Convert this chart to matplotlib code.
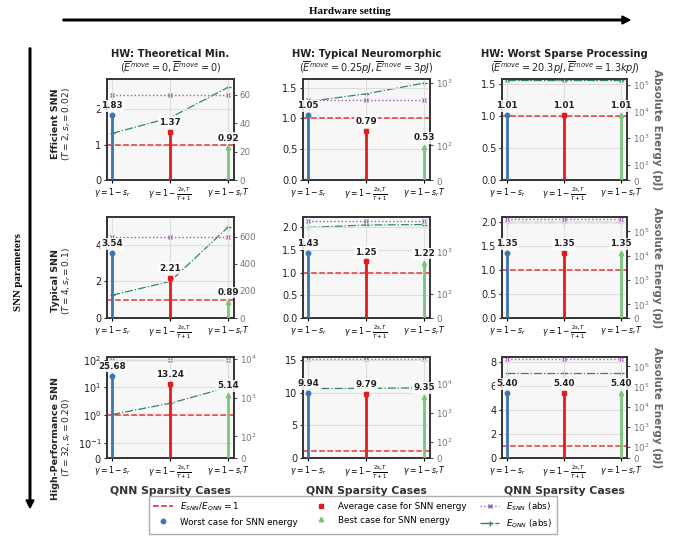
import matplotlib
matplotlib.use('Agg')
import matplotlib.pyplot as plt
from matplotlib.lines import Line2D

# ---------------- data ----------------
cases = [r'$\gamma=1-s_r$', r'$\gamma=1-\frac{2s_rT}{T+1}$', r'$\gamma=1-s_rT$']
hw_titles = ['HW: Theoretical Min.', 'HW: Typical Neuromorphic', 'HW: Worst Sparse Processing']
hw_params = [r'($\overline{E}^{move}=0, \overline{E}^{move}=0$)',
             r'($\overline{E}^{move}=0.25pJ, \overline{E}^{move}=3pJ$)',
             r'($\overline{E}^{move}=20.3pJ, \overline{E}^{move}=1.3kpJ$)']
snn_names = ['Efficient SNN', 'Typical SNN', 'High-Performance SNN']
snn_params = [r'($T=2, s_r=0.02$)', r'($T=4, s_r=0.1$)', r'($T=32, s_r=0.20$)']

# energy ratio E_SNN / E_QNN per hardware setting (three sparsity cases)
ratio_efficient = [[1.83, 1.37, 0.92], [1.05, 0.79, 0.53], [1.01, 1.01, 1.01]]
ratio_typical = [[3.54, 2.21, 0.89], [1.43, 1.25, 1.22], [1.35, 1.35, 1.35]]
ratio_highperf = [[25.68, 13.24, 5.14], [9.94, 9.79, 9.35], [5.40, 5.40, 5.40]]

# absolute SNN energy (pJ) per hardware setting
esnn_efficient = [60, 530, 1.45e5]
esnn_typical = [600, 5200, 3.3e5]
esnn_highperf = [9400, 6.6e4, 2.4e6]

# absolute QNN energy (pJ) per hardware setting and case
eqnn_efficient = [[32.8, 43.8, 65.2], [505, 671, 1000], [1.436e5, 1.436e5, 1.436e5]]
eqnn_typical = [[169, 271, 674], [3640, 4160, 4260], [2.44e5, 2.44e5, 2.44e5]]
eqnn_highperf = [[366, 710, 1829], [6640, 6740, 7060], [4.44e5, 4.44e5, 4.44e5]]

ratios = [ratio_efficient, ratio_typical, ratio_highperf]
esnn = [esnn_efficient, esnn_typical, esnn_highperf]
eqnn = [eqnn_efficient, eqnn_typical, eqnn_highperf]

# ---------------- styling ----------------
C_BLUE = '#3b76b0'
C_RED = '#e41a1c'
C_GREEN = '#7cc47a'
C_PURPLE = '#a05cb8'
C_DGREEN = '#2e8b57'
bar_colors = [C_BLUE, C_RED, C_GREEN]
bar_markers = ['o', 's', '^']

right_ylim = [[71, 1160, 1.62e5], [748, 6400, 3.9e5], [1.1e4, 8e4, 2.9e6]]

fig = plt.figure(figsize=(6.85, 5.38), dpi=100)
W, H = 685.0, 538.0
col_left = [107, 303, 502]
col_w = [127, 127, 125]
row_top = [79, 217, 357]
row_h = 101

for r in range(3):
    for c in range(3):
        x0 = col_left[c] / W
        y0 = 1 - (row_top[r] + row_h) / H
        ax = fig.add_axes([x0, y0, col_w[c] / W, row_h / H])
        ax2 = ax.twinx()
        ax.set_zorder(ax2.get_zorder() + 1)
        ax.patch.set_visible(False)
        ax2.patch.set_visible(True)
        ax2.patch.set_facecolor('#f7f7f7')

        vals = ratios[r][c]
        xs = list(range(len(cases)))
        for i, v in enumerate(vals):
            ax.vlines(xs[i], 0, v, color=bar_colors[i], lw=2.0, zorder=3)
            ax.plot(xs[i], v, marker=bar_markers[i], color=bar_colors[i], ms=3.2, zorder=4)
            ax.annotate(f'{v:.2f}', xy=(xs[i], v), xytext=(0, 3.5), textcoords='offset points',
                        ha='center', va='bottom', fontsize=6.3, fontweight='bold', color='#222222',
                        bbox=dict(boxstyle='square,pad=0.15', fc='white', ec='none', alpha=0.85),
                        zorder=6)
        ax.axhline(1, color=C_RED, ls='--', lw=1.1, alpha=0.85, zorder=2)

        # absolute energies on the right axis
        ax2.plot(xs, [esnn[r][c]] * len(xs), color=C_PURPLE, ls=':', lw=1.0, marker='x', ms=3.2,
                 mew=0.9)
        ax2.plot(xs, eqnn[r][c], color=C_DGREEN, ls='-.', lw=0.9, marker='+', ms=3.6, mew=0.9)

        if r == 2 and c == 0:
            ax.set_yscale('symlog', linthresh=0.1, linscale=0.5)
            ax.set_ylim(0, 125)
        else:
            ax.set_ylim(0, max(vals) * 1.56)
        if c == 0 and r < 2:
            ax2.set_ylim(0, right_ylim[r][c])
        else:
            ax2.set_yscale('symlog', linthresh=100, linscale=0.5)
            ax2.set_ylim(0, right_ylim[r][c])
            ax2.minorticks_off()
        ax.set_xlim(-0.09, 2.1)
        ax.set_xticks(xs)
        ax.set_xticklabels(cases, fontsize=5.6)
        ax.tick_params(axis='y', labelsize=7, length=2.5, width=0.8, pad=1.5, colors='#222222')
        ax.tick_params(axis='x', length=2.5, width=0.8, pad=1.5)
        ax2.tick_params(axis='y', labelsize=6.3, length=2.5, width=0.8, pad=1.5,
                        labelcolor='#777777', color='#555555')
        ax.grid(True, color='#dedede', lw=0.8, zorder=0)
        ax.set_axisbelow(True)
        for sp in ax.spines.values():
            sp.set_color('#333333')
            sp.set_linewidth(1.2)
        for sp in ax2.spines.values():
            sp.set_color('#333333')
            sp.set_linewidth(1.2)

        if r == 0:
            ax.text(0.5, 1.25, hw_titles[c], transform=ax.transAxes, ha='center', va='center',
                    fontsize=7.2, fontweight='bold', color='#222222')
            ax.text(0.5, 1.115, hw_params[c], transform=ax.transAxes, ha='center', va='center',
                    fontsize=7, color='#222222')
        if r == 2:
            ax.set_xlabel('QNN Sparsity Cases', fontsize=7.8, fontweight='bold', color='#333333',
                          labelpad=4)
        if c == 2:
            ax2.set_ylabel('Absolute Energy (pJ)', fontsize=7.5, fontweight='bold', color='#666666',
                           rotation=270, labelpad=9)

# row labels
row_centers = [124, 281, 438]
for r in range(3):
    yc = 1 - row_centers[r] / H
    fig.text(56 / W, yc, snn_names[r], rotation=90, ha='center', va='center', fontsize=6.8,
             fontweight='bold', color='#222222')
    fig.text(67 / W, yc, snn_params[r], rotation=90, ha='center', va='center', fontsize=6.5,
             color='#222222')

# global arrows
fig.patches.append(matplotlib.patches.FancyArrow(
    63 / W, 1 - 20 / H, (630 - 63) / W, 0, width=1.6 / H, head_width=8 / H, head_length=8 / W,
    length_includes_head=True, color='black', transform=fig.transFigure, figure=fig))
fig.text(350 / W, 1 - 12 / H, 'Hardware setting', ha='center', va='center', fontsize=7.8,
         fontweight='bold', family='Liberation Serif')
fig.patches.append(matplotlib.patches.FancyArrow(
    30 / W, 1 - 48 / H, 0, -(508 - 48) / H, width=1.6 / W, head_width=8 / W, head_length=8 / H,
    length_includes_head=True, color='black', transform=fig.transFigure, figure=fig))
fig.text(19 / W, 1 - 272 / H, 'SNN parameters', rotation=90, ha='center', va='center', fontsize=7.8,
         fontweight='bold', family='Liberation Serif')

# legend
handles = [
    Line2D([], [], color=C_RED, ls='--', lw=1.1),
    Line2D([], [], color=C_BLUE, ls='none', marker='o', ms=3.2),
    Line2D([], [], color=C_RED, ls='none', marker='s', ms=3.2),
    Line2D([], [], color=C_GREEN, ls='none', marker='^', ms=3.2),
    Line2D([], [], color=C_PURPLE, ls=':', lw=1.0, marker='x', ms=3.2),
    Line2D([], [], color=C_DGREEN, ls='-.', lw=1.0, marker='+', ms=3.6),
]
labels = [r'$E_{SNN}/E_{QNN}=1$', 'Worst case for SNN energy', 'Average case for SNN energy',
          'Best case for SNN energy', r'$E_{SNN}$ (abs)', r'$E_{QNN}$ (abs)']
fig.legend(handles, labels, ncol=3, loc='center', bbox_to_anchor=(353 / W, 1 - 515 / H),
           fontsize=6.3, frameon=True, edgecolor='#999999', fancybox=False, handlelength=2.2,
           columnspacing=1.6, labelspacing=0.5, borderpad=0.5)

fig.savefig('out.png', dpi=100)
